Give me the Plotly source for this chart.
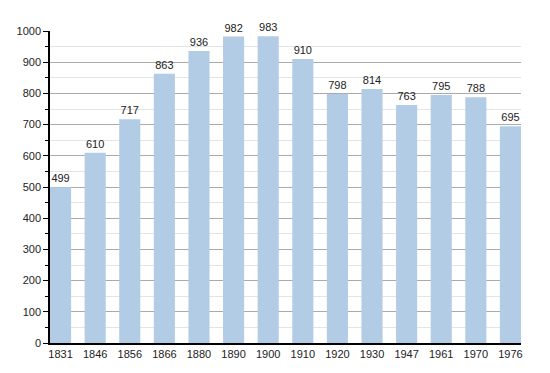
import plotly.graph_objects as go

years = ["1831", "1846", "1856", "1866", "1880", "1890", "1900", "1910", "1920", "1930", "1947", "1961", "1970", "1976"]
population = [499, 610, 717, 863, 936, 982, 983, 910, 798, 814, 763, 795, 788, 695]

fig = go.Figure(go.Bar(
    x=years, y=population,
    marker=dict(color="#b3cce6", line=dict(width=0)),
    text=[str(v) for v in population], textposition="outside",
    textfont=dict(family="Liberation Sans, Arial", size=11, color="#222"),
    cliponaxis=False,
))

fig.update_layout(
    width=550, height=373,
    margin=dict(l=42, r=37, t=23, b=38, autoexpand=False),
    paper_bgcolor="white", plot_bgcolor="white",
    bargap=0.39,
    showlegend=False,
    font=dict(family="Liberation Sans, Arial", size=11, color="#222"),
)
fig.update_xaxes(
    type="category", range=[-0.305, 13.305],
    showline=True, linecolor="black", linewidth=1.5,
    ticks="", showgrid=False, tickfont=dict(size=11),
)
fig.update_yaxes(
    range=[0, 1000], dtick=100, tick0=0,
    showline=True, linecolor="black", linewidth=1.5,
    ticks="outside", ticklen=5, tickcolor="black",
    gridcolor="#aaaaaa", gridwidth=1,
    minor=dict(dtick=50, showgrid=True, gridcolor="#e4e4e4", ticks="outside", ticklen=3, tickcolor="black"),
    zeroline=False, tickfont=dict(size=11),
)

fig.write_html("out.html")
